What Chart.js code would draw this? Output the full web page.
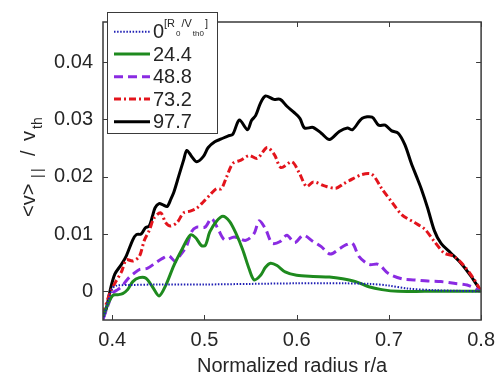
<!DOCTYPE html>
<html><head><meta charset="utf-8">
<script src="https://cdn.jsdelivr.net/npm/chart.js@4"></script>
<style>html,body{margin:0;padding:0;background:#fff}#wrap{width:503px;height:379px;position:relative}</style>
</head><body><div id="wrap"><canvas id="c" width="503" height="379"></canvas></div>
<script>
const seriesLabels = ['0', '24.4', '48.8', '73.2', '97.7'];
const xTickValues = [0.4, 0.5, 0.6, 0.7, 0.8];
const yTickValues = [0, 0.01, 0.02, 0.03, 0.04];

const series0 = [[0.39,-0.005],[0.395,-0.002],[0.40,0.0005],[0.405,0.001],[0.42,0.0011],[0.45,0.0012],[0.50,0.0012],[0.55,0.0013],[0.60,0.0014],[0.65,0.0014],[0.68,0.0013],[0.70,0.0010],[0.72,0.0005],[0.75,0.0002],[0.80,0.0]];

const series24 = [[0.39,-0.0044],[0.3953,-0.0022],[0.4007,-0.0007],[0.406,-0.0006],[0.4113,-0.0004],[0.4167,0.0003],[0.4223,0.0017],[0.4294,0.0024],[0.4366,0.0023],[0.4436,0.0008],[0.4508,-0.0008],[0.4579,0.0010],[0.4668,0.0045],[0.4756,0.0073],[0.4846,0.0098],[0.4902,0.0094],[0.4966,0.0080],[0.5009,0.0080],[0.5059,0.0104],[0.5129,0.0122],[0.52,0.0131],[0.5272,0.0122],[0.5342,0.0101],[0.5414,0.0073],[0.5485,0.0039],[0.5539,0.0020],[0.5609,0.0028],[0.5662,0.0042],[0.5716,0.0049],[0.5787,0.0045],[0.5875,0.0034],[0.60,0.0028],[0.6178,0.0026],[0.6355,0.0025],[0.6498,0.0022],[0.664,0.0017],[0.6782,0.0008],[0.6924,0.0003],[0.7101,0.0],[0.7386,0.0],[0.7706,0.0],[0.80,0.0]];

const series48 = [[0.39,-0.0049],[0.3953,-0.0025],[0.4007,-0.0003],[0.406,0.0003],[0.4103,0.0008],[0.4145,0.0017],[0.4188,0.0025],[0.4241,0.0032],[0.4294,0.0038],[0.438,0.0040],[0.4473,0.0050],[0.454,0.0057],[0.4614,0.0062],[0.4686,0.0052],[0.4742,0.0064],[0.4806,0.0079],[0.486,0.0104],[0.4916,0.0112],[0.5006,0.0112],[0.5076,0.0127],[0.5147,0.0109],[0.5219,0.0090],[0.5325,0.0095],[0.5449,0.0089],[0.5539,0.0101],[0.5592,0.0123],[0.5662,0.0109],[0.5734,0.0084],[0.5822,0.0087],[0.5894,0.0098],[0.5979,0.0085],[0.6072,0.0098],[0.6178,0.0087],[0.6267,0.0078],[0.6363,0.0065],[0.6469,0.0075],[0.6533,0.0081],[0.6605,0.0084],[0.6675,0.0061],[0.6782,0.0047],[0.6888,0.0047],[0.6995,0.0031],[0.7138,0.0022],[0.7279,0.0020],[0.7421,0.0018],[0.7564,0.0017],[0.7706,0.0014],[0.7848,0.0011],[0.80,0.0]];

const series73 = [[0.39,-0.004],[0.3975,-0.0003],[0.4039,0.0017],[0.410,0.0034],[0.4153,0.0055],[0.4223,0.0053],[0.4294,0.0061],[0.4348,0.0089],[0.4401,0.0106],[0.4454,0.0128],[0.4526,0.0137],[0.4579,0.0120],[0.4632,0.0114],[0.4703,0.0120],[0.4774,0.0137],[0.4846,0.0140],[0.4916,0.0145],[0.4987,0.0156],[0.5059,0.0168],[0.5129,0.0179],[0.5183,0.0179],[0.5236,0.0198],[0.5307,0.0223],[0.5396,0.0229],[0.5485,0.0237],[0.5574,0.0232],[0.568,0.0251],[0.576,0.0238],[0.583,0.0216],[0.5948,0.0226],[0.6027,0.0207],[0.6107,0.0183],[0.6182,0.0191],[0.6302,0.0184],[0.6427,0.0180],[0.6512,0.0188],[0.6568,0.0193],[0.6711,0.0204],[0.6818,0.0204],[0.6924,0.0179],[0.7031,0.0156],[0.7138,0.0134],[0.7279,0.0120],[0.7386,0.0109],[0.7493,0.0087],[0.7599,0.0067],[0.7706,0.0061],[0.7812,0.0045],[0.7919,0.0022],[0.80,0.0]];

const series97 = [[0.39,-0.0047],[0.394,-0.0028],[0.3975,0.0],[0.4028,0.0030],[0.410,0.0047],[0.4153,0.0062],[0.4223,0.0090],[0.4262,0.0099],[0.4313,0.0100],[0.436,0.0111],[0.4401,0.0114],[0.4436,0.0131],[0.4465,0.0146],[0.4508,0.0153],[0.455,0.0151],[0.4596,0.0148],[0.4636,0.0161],[0.4668,0.0173],[0.4721,0.0201],[0.4774,0.0229],[0.4809,0.0246],[0.4863,0.0235],[0.4916,0.0226],[0.4987,0.0235],[0.5041,0.0251],[0.5112,0.0261],[0.5183,0.0266],[0.5254,0.0271],[0.5307,0.0274],[0.5379,0.0299],[0.5467,0.0282],[0.551,0.0298],[0.5556,0.0307],[0.5609,0.0329],[0.5662,0.0341],[0.5752,0.0335],[0.5822,0.0335],[0.5894,0.0323],[0.5965,0.0313],[0.6035,0.0302],[0.6085,0.0285],[0.6178,0.0286],[0.6267,0.0276],[0.6355,0.0265],[0.6462,0.0279],[0.6551,0.0285],[0.6605,0.0282],[0.6711,0.0302],[0.6818,0.0304],[0.6888,0.0290],[0.6960,0.0290],[0.7031,0.0280],[0.7101,0.0276],[0.7173,0.0256],[0.7244,0.0223],[0.7298,0.0201],[0.7351,0.0179],[0.7421,0.0145],[0.7493,0.0106],[0.7564,0.0084],[0.7671,0.0067],[0.7777,0.0050],[0.7884,0.0028],[0.80,0.0]];

const FONT = '"Liberation Sans", Arial, Helvetica, sans-serif';
const TXT = '#262626';

const framePlugin = {
  id: 'frame',
  afterDatasetsDraw(chart) {
    const ctx = chart.ctx;
    const a = chart.chartArea;
    const xs = chart.scales.x, ys = chart.scales.y;
    ctx.save();
    ctx.strokeStyle = '#3a3a3a';
    ctx.lineWidth = 1.5;
    ctx.strokeRect(a.left, a.top, a.right - a.left, a.bottom - a.top);
    ctx.lineWidth = 1;
    const tl = 5;
    ctx.beginPath();
    xTickValues.forEach(v => {
      const p = Math.round(xs.getPixelForValue(v)) + 0.5;
      ctx.moveTo(p, a.bottom); ctx.lineTo(p, a.bottom - tl);
      ctx.moveTo(p, a.top); ctx.lineTo(p, a.top + tl);
    });
    yTickValues.forEach(v => {
      const p = Math.round(ys.getPixelForValue(v)) + 0.5;
      ctx.moveTo(a.left, p); ctx.lineTo(a.left + tl, p);
      ctx.moveTo(a.right, p); ctx.lineTo(a.right - tl, p);
    });
    ctx.stroke();

    // legend
    const lx = 107, ly = 12, lw = 110, lh = 121;
    ctx.fillStyle = '#fff';
    ctx.fillRect(lx, ly, lw, lh);
    ctx.strokeStyle = '#3a3a3a';
    ctx.lineWidth = 1;
    ctx.strokeRect(lx + 0.5, ly + 0.5, lw, lh);
    const rowY = [31.7, 54, 76.7, 99, 121.7];
    chart.data.datasets.forEach((ds, i) => {
      const y = rowY[i];
      ctx.save();
      ctx.strokeStyle = ds.borderColor;
      ctx.lineWidth = ds.borderWidth;
      ctx.setLineDash(ds.borderDash || []);
      ctx.beginPath();
      ctx.moveTo(114, y); ctx.lineTo(150, y);
      ctx.stroke();
      ctx.restore();
      ctx.fillStyle = TXT;
      ctx.font = '20px ' + FONT;
      ctx.textBaseline = 'middle';
      ctx.textAlign = 'left';
      ctx.fillText(ds.label, 153, y + 1);
      if (i === 0) {
        ctx.textBaseline = 'alphabetic';
        ctx.font = '11px ' + FONT;
        let x = 164;
        ctx.fillText('[R', x, 27); x += ctx.measureText('[R').width;
        ctx.font = '8px ' + FONT;
        ctx.fillText('0', x + 1, 36); x += ctx.measureText('0').width + 2;
        ctx.font = '11px ' + FONT;
        ctx.fillText('/V', x, 27); x += ctx.measureText('/V').width;
        ctx.font = '8px ' + FONT;
        ctx.fillText('th0', x + 1, 36); x += ctx.measureText('th0').width + 2;
        ctx.font = '11px ' + FONT;
        ctx.fillText(']', x, 27);
      }
    });

    // y-axis title: <v>_|| / v_th
    ctx.save();
    ctx.translate(35, 217);
    ctx.rotate(-Math.PI / 2);
    ctx.fillStyle = TXT;
    ctx.textBaseline = 'alphabetic';
    ctx.textAlign = 'left';
    ctx.font = '20px ' + FONT;
    ctx.fillText('<v>', 0, 0);
    ctx.font = '14px ' + FONT;
    ctx.fillText('|', 39, 7);
    ctx.fillText('|', 45, 7);
    ctx.font = '20px ' + FONT;
    ctx.fillText('/', 61, 0);
    ctx.fillText('v', 76, 0);
    ctx.font = '14px ' + FONT;
    ctx.fillText('th', 88, 7);
    ctx.restore();
    ctx.restore();
  }
};

const styles = [
  {color: '#1f1fb4', width: 2, dash: [1.5, 1.6]},
  {color: '#1e8a1e', width: 3, dash: []},
  {color: '#8a2be2', width: 3, dash: [9, 5]},
  {color: '#e3141c', width: 3, dash: [7, 3, 2, 3]},
  {color: '#000000', width: 3, dash: []}
];
const allSeries = [series0, series24, series48, series73, series97];

new Chart(document.getElementById('c'), {
  type: 'line',
  data: {
    datasets: allSeries.map((d, i) => ({
      label: seriesLabels[i],
      data: d,
      borderColor: styles[i].color,
      borderWidth: styles[i].width,
      borderDash: styles[i].dash,
      pointRadius: 0,
      tension: 0.3,
      fill: false
    }))
  },
  options: {
    responsive: false,
    animation: false,
    devicePixelRatio: 1,
    layout: {padding: {left: 0, right: 15.5, top: 9.5, bottom: 0}},
    plugins: {legend: {display: false}, tooltip: {enabled: false}},
    scales: {
      x: {
        type: 'linear', min: 0.39, max: 0.8,
        afterBuildTicks: s => { s.ticks = xTickValues.map(v => ({value: v})); },
        afterFit: s => { s.height = 59; },
        grid: {display: false, drawTicks: false},
        border: {display: false},
        ticks: {font: {size: 20, family: FONT}, color: TXT, padding: 8, maxRotation: 0,
                callback: v => String(v)},
        title: {display: true, text: 'Normalized radius r/a', font: {size: 20, family: FONT}, color: TXT, padding: {top: 0, bottom: 1}}
      },
      y: {
        type: 'linear', min: -0.005, max: 0.047,
        afterBuildTicks: s => { s.ticks = yTickValues.map(v => ({value: v})); },
        afterFit: s => { s.width = 103; },
        grid: {display: false, drawTicks: false},
        border: {display: false},
        ticks: {font: {size: 20, family: FONT}, color: TXT, padding: 10,
                callback: v => v === 0 ? '0' : v.toFixed(2)}
      }
    }
  },
  plugins: [framePlugin]
});
</script></body></html>
